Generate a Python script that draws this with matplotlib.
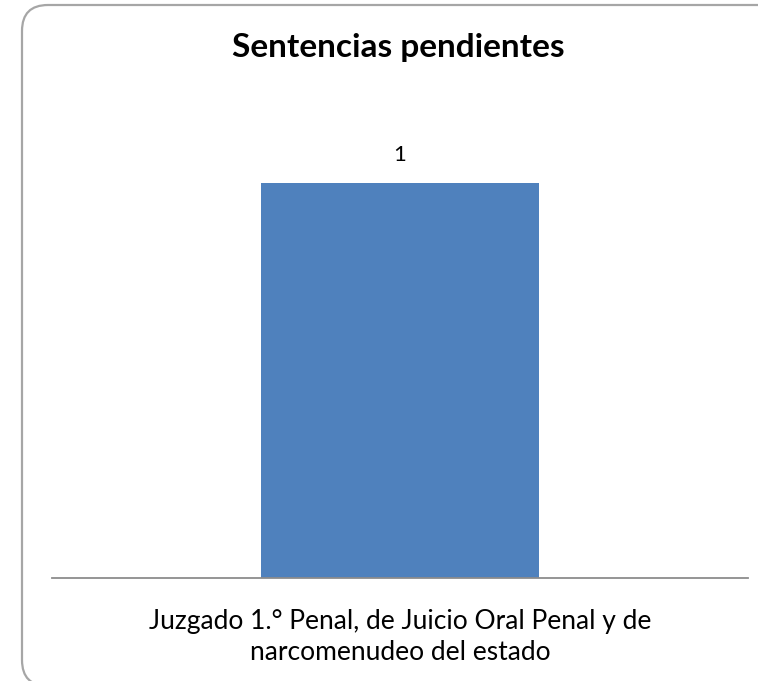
import matplotlib
matplotlib.use('Agg')
from matplotlib import pyplot as plt
from matplotlib.patches import FancyBboxPatch
from matplotlib.transforms import IdentityTransform

categories = ['Juzgado 1.° Penal, de Juicio Oral Penal y de\nnarcomenudeo del estado']
values = [1]
title = 'Sentencias pendientes'

plt.rcParams['font.family'] = ['Lato', 'DejaVu Sans']

W, H = 758, 681
fig = plt.figure(figsize=(W / 100, H / 100), dpi=100)

# rounded chart border in pixels (right and bottom run off the image)
border = FancyBboxPatch((22, -5), 800, 681, boxstyle='round,pad=0,rounding_size=26',
                        transform=IdentityTransform(), facecolor='none',
                        edgecolor='#a6a6a6', linewidth=1.6, zorder=-1)
fig.patches.append(border)

ax = fig.add_axes([52 / W, 1 - 578 / H, 696 / W, 474 / H])
ax.set_facecolor('none')
bars = ax.bar(range(len(values)), values, width=0.4, color='#4f81bd')
ax.set_xlim(-0.5, len(values) - 0.5)
ax.set_ylim(0, 1.2)
for b, v in zip(bars, values):
    ax.text(b.get_x() + b.get_width() / 2, v + 0.045, str(v),
            ha='center', va='bottom', fontsize=16)

for s in ['top', 'right', 'left']:
    ax.spines[s].set_visible(False)
ax.spines['bottom'].set_color('#8c8c8c')
ax.spines['bottom'].set_linewidth(1.3)
ax.set_yticks([])
ax.set_xticks(range(len(categories)))
ax.set_xticklabels(categories, fontsize=19, linespacing=1.3)
ax.tick_params(axis='x', length=0, pad=22)

fig.text(398 / W, 1 - 47 / H, title, ha='center', va='center',
         fontsize=24, fontweight='bold')

fig.savefig('out.png', dpi=100)
